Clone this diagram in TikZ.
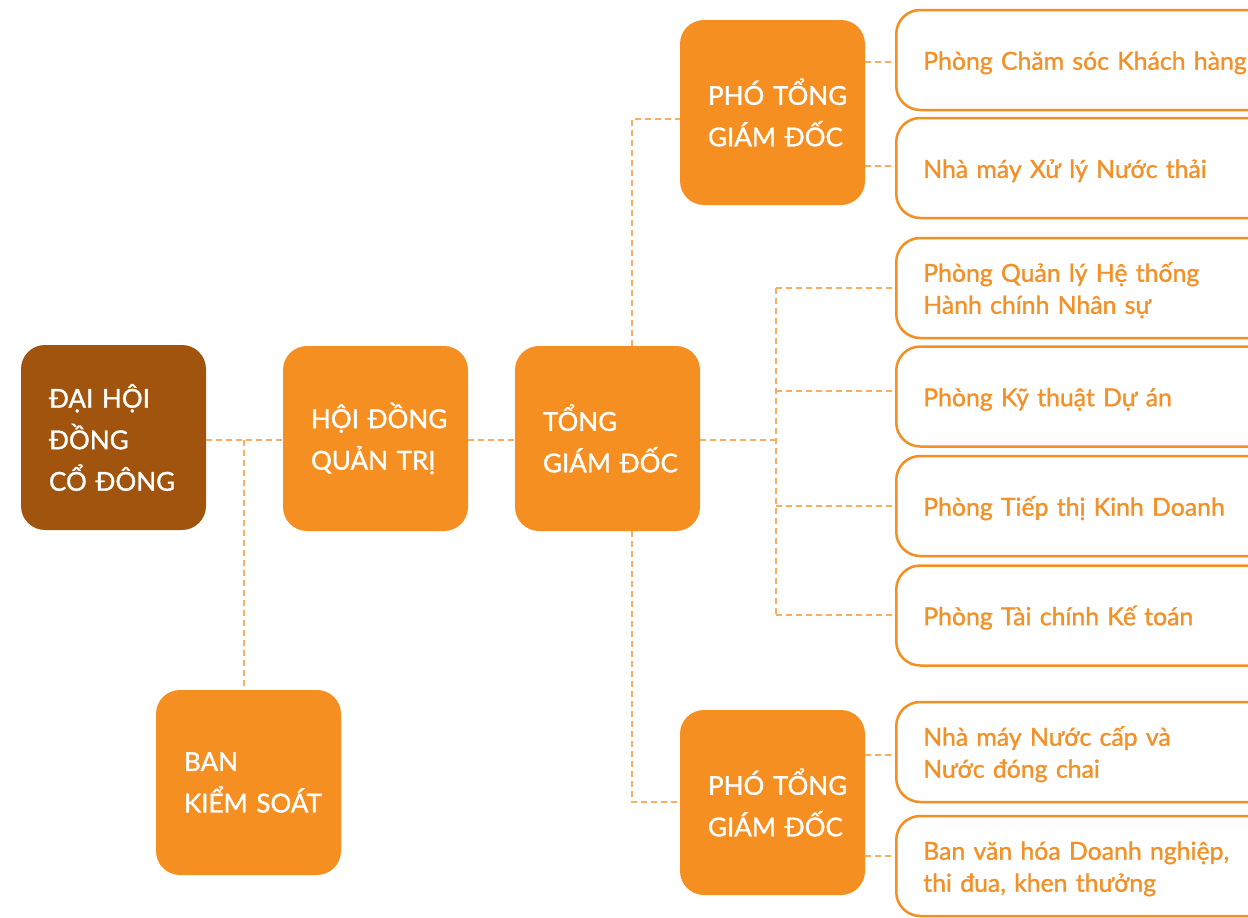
\documentclass[tikz,border=0pt]{standalone}
\usepackage{fontspec}
\setmainfont{Lato}[FakeBold=1.2,BoldFont=Lato]
\newcommand{\keepline}[1]{\mbox{#1}}
\begin{document}
\begin{tikzpicture}[x=1pt,y=-1pt,
  solidbox/.style={rectangle, rounded corners=24pt, minimum width=185pt, minimum height=185pt,
    text width=129pt, inner xsep=28pt, inner ysep=0pt, align=left, text=white,
    font=\fontsize{26}{41.5}\selectfont\bfseries},
  mainbox/.style={solidbox, fill=boxorange},
  rootbox/.style={solidbox, fill=boxbrown},
  unitbox/.style={rectangle, rounded corners=24pt, draw=boxorange, line width=2.5pt, fill=white,
    minimum width=390pt, minimum height=100pt, text width=336pt, inner xsep=27pt, inner ysep=0pt,
    align=left, text=unittext, anchor=west,
    execute at begin node={\rule{0pt}{24pt}},
    font=\fontsize{24.8}{32}\selectfont\bfseries},
  link/.style={draw=linkorange, line width=1.6pt, dash pattern=on 6pt off 4pt}
]
\definecolor{boxorange}{HTML}{F58F21}
\definecolor{boxbrown}{HTML}{A0540D}
\definecolor{unittext}{HTML}{F39129}
\definecolor{linkorange}{HTML}{F8AE62}

\clip (0,0) rectangle (1248,918);
\fill[white] (0,0) rectangle (1248,918);

% management boxes
\node[rootbox] (dhcd) at (113.5,437.5) {\keepline{ĐẠI HỘI}\\\keepline{ĐỒNG}\\\keepline{CỔ ĐÔNG}};
\node[mainbox] (hdqt) at (375.5,438.5) {\keepline{HỘI ĐỒNG}\\\keepline{QUẢN TRỊ}};
\node[mainbox] (tgd)  at (607.5,438.5) {\keepline{TỔNG}\\\keepline{GIÁM ĐỐC}};
\node[mainbox] (bks)  at (248.5,782.5) {\keepline{BAN}\\\keepline{KIỂM SOÁT}};
\node[mainbox] (ptgd1) at (772.5,112.5) {\keepline{PHÓ TỔNG}\\\keepline{GIÁM ĐỐC}};
\node[mainbox] (ptgd2) at (772.5,802.5) {\keepline{PHÓ TỔNG}\\\keepline{GIÁM ĐỐC}};

% departments
\node[unitbox] (u1) at (895,60)  {Phòng Chăm sóc Khách hàng};
\node[unitbox] (u2) at (895,168) {Nhà máy Xử lý Nước thải};
\node[unitbox] (u3) at (895,288) {Phòng Quản lý Hệ thống\\Hành chính Nhân sự};
\node[unitbox] (u4) at (895,396.5) {Phòng Kỹ thuật Dự án};
\node[unitbox] (u5) at (895,506) {Phòng Tiếp thị Kinh Doanh};
\node[unitbox] (u6) at (895,615.5) {Phòng Tài chính Kế toán};
\node[unitbox] (u7) at (895,752) {Nhà máy Nước cấp và\\Nước đóng chai};
\node[unitbox] (u8) at (895,866) {Ban văn hóa Doanh nghiệp,\\thi đua, khen thưởng};

% junction points
\coordinate (jl) at (244,440);
\coordinate (jr) at (776,440);

% connectors
\draw[link] (dhcd.east |- jl) -- (hdqt.west |- jl);
\draw[link] (jl) -- (jl |- bks.north);
\draw[link] (hdqt.east |- jl) -- (tgd.west |- jl);
\draw[link] (632,346) |- (ptgd1.west |- 0,119);
\draw[link] (632,531) |- (ptgd2.west |- 0,802);
\draw[link] (tgd.east |- jr) -- (jr);
\draw[link] (776,288) -- (776,615);
\draw[link] (776,288) -- (u3.west |- 0,288);
\draw[link] (776,391) -- (u4.west |- 0,391);
\draw[link] (776,506) -- (u5.west |- 0,506);
\draw[link] (776,615) -- (u6.west |- 0,615);
\draw[link] (ptgd1.east |- 0,62) -- (u1.west |- 0,62);
\draw[link] (ptgd1.east |- 0,166) -- (u2.west |- 0,166);
\draw[link] (ptgd2.east |- 0,755) -- (u7.west |- 0,755);
\draw[link] (ptgd2.east |- 0,856) -- (u8.west |- 0,856);
\end{tikzpicture}
\end{document}
